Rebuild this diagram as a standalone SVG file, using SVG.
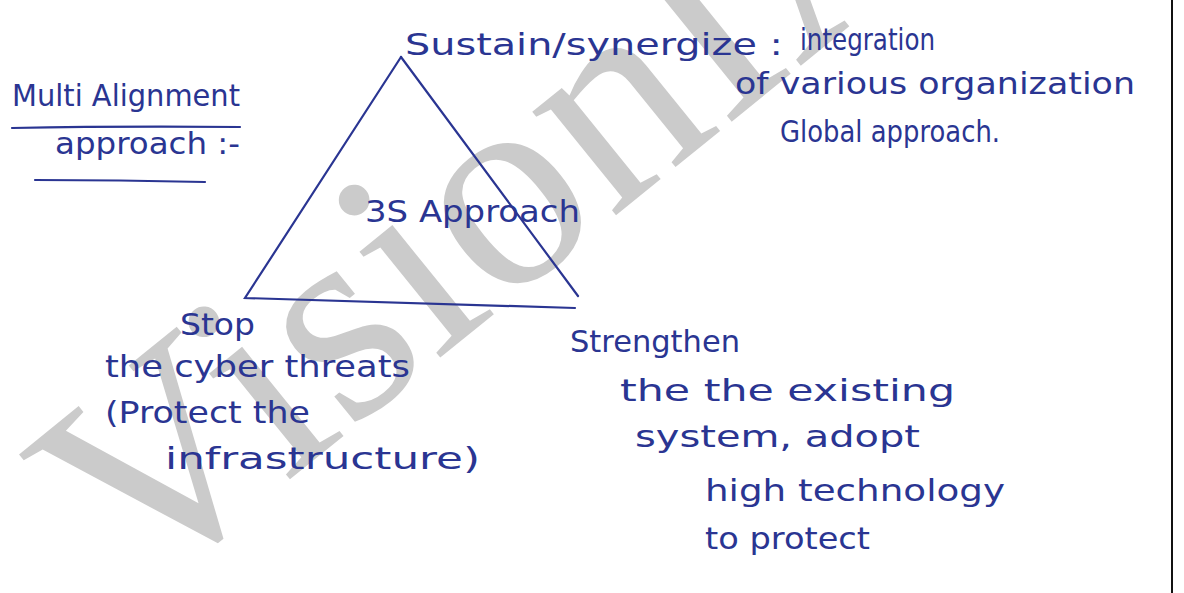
<svg xmlns="http://www.w3.org/2000/svg" width="1184" height="593" viewBox="0 0 1184 593">
<style>
.ink{font-family:"DejaVu Sans","Liberation Sans",sans-serif;font-size:31px;fill:#2a3592}
.ln{fill:none;stroke:#2a3592;stroke-width:2.2;stroke-linecap:round}
.wm{font-family:"Liberation Serif",serif;font-size:290px;fill:#cbcbcb}
</style>
<rect width="1184" height="593" fill="#ffffff"/>
<g id="watermark"><text class="wm" transform="translate(136,604) rotate(-39)">VisionIAS</text></g>
<line x1="1172" y1="0" x2="1172" y2="593" stroke="#111" stroke-width="2"/>
<g id="title">
<text class="ink" x="12" y="106" textLength="228" lengthAdjust="spacingAndGlyphs">Multi Alignment</text>
<path class="ln" d="M12 128 Q120 126 240 127"/>
<text class="ink" x="55" y="154" textLength="185" lengthAdjust="spacingAndGlyphs">approach :-</text>
<path class="ln" d="M35 180 Q120 180 205 182"/>
</g>
<g id="connectors">
<path class="ln" d="M401 57 L245 298 L575 308"/>
<path class="ln" d="M401 57 L578 296"/>
</g>
<g id="center"><text class="ink" x="365" y="222" textLength="215" lengthAdjust="spacingAndGlyphs">3S Approach</text></g>
<g id="sustain">
<text class="ink" x="405" y="55" textLength="378" lengthAdjust="spacingAndGlyphs">Sustain/synergize :</text>
<text class="ink" x="800" y="50" textLength="135" lengthAdjust="spacingAndGlyphs">integration</text>
<text class="ink" x="735" y="94" textLength="400" lengthAdjust="spacingAndGlyphs">of various organization</text>
<text class="ink" x="780" y="142" textLength="220" lengthAdjust="spacingAndGlyphs">Global approach.</text>
</g>
<g id="stop">
<text class="ink" x="180" y="335" textLength="75" lengthAdjust="spacingAndGlyphs">Stop</text>
<text class="ink" x="105" y="377" textLength="305" lengthAdjust="spacingAndGlyphs">the cyber threats</text>
<text class="ink" x="105" y="423" textLength="205" lengthAdjust="spacingAndGlyphs">(Protect the</text>
<text class="ink" x="165" y="469" textLength="315" lengthAdjust="spacingAndGlyphs">infrastructure)</text>
</g>
<g id="strengthen">
<text class="ink" x="570" y="352" textLength="170" lengthAdjust="spacingAndGlyphs">Strengthen</text>
<text class="ink" x="620" y="401" textLength="335" lengthAdjust="spacingAndGlyphs">the the existing</text>
<text class="ink" x="635" y="447" textLength="285" lengthAdjust="spacingAndGlyphs">system, adopt</text>
<text class="ink" x="705" y="501" textLength="300" lengthAdjust="spacingAndGlyphs">high technology</text>
<text class="ink" x="705" y="549" textLength="165" lengthAdjust="spacingAndGlyphs">to protect</text>
</g>
</svg>
